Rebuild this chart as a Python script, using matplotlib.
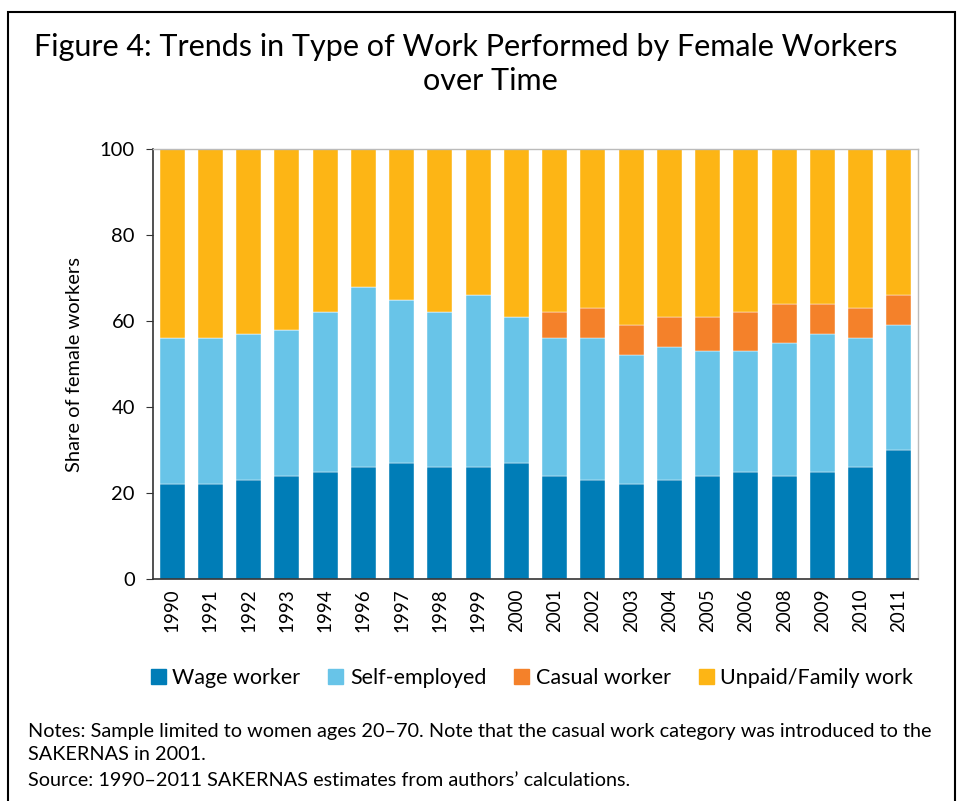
import numpy as np
import matplotlib.pyplot as plt
from matplotlib.patches import Patch, Rectangle

plt.rcParams['font.family'] = ['Lato', 'DejaVu Sans']

years = ['1990', '1991', '1992', '1993', '1994', '1996', '1997', '1998', '1999', '2000',
         '2001', '2002', '2003', '2004', '2005', '2006', '2008', '2009', '2010', '2011']
wage = [22, 22, 23, 24, 25, 26, 27, 26, 26, 27, 24, 23, 22, 23, 24, 25, 24, 25, 26, 30]
self_emp = [34, 34, 34, 34, 37, 42, 38, 36, 40, 34, 32, 33, 30, 31, 29, 28, 31, 32, 30, 29]
casual = [0, 0, 0, 0, 0, 0, 0, 0, 0, 0, 6, 7, 7, 7, 8, 9, 9, 7, 7, 7]
unpaid = [44, 44, 43, 42, 38, 32, 35, 38, 34, 39, 38, 37, 41, 39, 39, 38, 36, 36, 37, 34]

labels = ['Wage worker', 'Self-employed', 'Casual worker', 'Unpaid/Family work']
colors = ['#007DB7', '#68C4E8', '#F4812A', '#FDB515']

fig = plt.figure(figsize=(9.57, 8.01), dpi=100)
ax = fig.add_axes([153/957, 1 - 579/801, 765/957, 430/801])

x = np.arange(len(years))
bottom = np.zeros(len(years))
for vals, lab, col in zip([wage, self_emp, casual, unpaid], labels, colors):
    ax.bar(x, vals, 0.66, bottom=bottom, color=col, label=lab, edgecolor='white', linewidth=0.3)
    bottom += np.array(vals)

ax.set_xlim(-0.5, len(years) - 0.5)
ax.set_ylim(0, 100)
ax.set_yticks(range(0, 101, 20))
ax.set_xticks(x)
ax.set_xticklabels(years, rotation=90, fontsize=13.5)
ax.tick_params(axis='y', labelsize=14.5, length=5, color='#333333', pad=8)
ax.tick_params(axis='x', length=0, pad=7)
ax.set_ylabel('Share of female workers', fontsize=14.5, labelpad=12)

for s in ['left', 'bottom']:
    ax.spines[s].set_color('#333333')
    ax.spines[s].set_linewidth(1.2)
for s in ['top', 'right']:
    ax.spines[s].set_color('#bbbbbb')
    ax.spines[s].set_linewidth(1.0)

fig.text(0.487, 1 - 47/801, 'Figure 4: Trends in Type of Work Performed by Female Workers',
         ha='center', va='center', fontsize=22)
fig.text(0.512, 1 - 81/801, 'over Time', ha='center', va='center', fontsize=22)

handles = [Patch(color=c) for c in colors]
fig.legend(handles, labels, loc='center', bbox_to_anchor=(532/957, 1 - 678/801), ncol=4,
           frameon=False, fontsize=15.5, handlelength=0.7, handleheight=0.7,
           handletextpad=0.3, columnspacing=1.3)

fig.text(28/957, 1 - 731/801,
         'Notes: Sample limited to women ages 20\u201370. Note that the casual work category was introduced to the',
         ha='left', va='center', fontsize=14.3)
fig.text(28/957, 1 - 754/801, 'SAKERNAS in 2001.', ha='left', va='center', fontsize=14.3)
fig.text(28/957, 1 - 780/801, 'Source: 1990\u20132011 SAKERNAS estimates from authors\u2019 calculations.',
         ha='left', va='center', fontsize=14.3)

fig.patches.append(Rectangle((8/957, -0.05), 0.998 - 8/957, 1 - 12/801 + 0.05,
                             transform=fig.transFigure, fill=False, edgecolor='black', linewidth=1.5))

fig.savefig('out.png', dpi=100)
